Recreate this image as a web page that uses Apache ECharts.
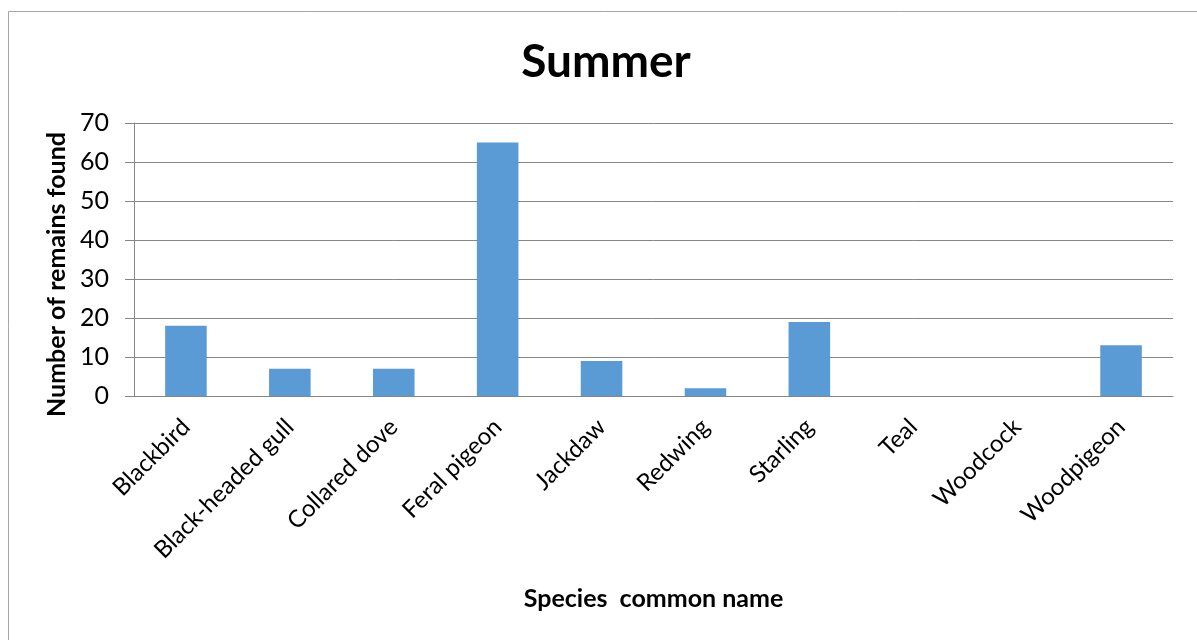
<!DOCTYPE html>
<html>
<head>
<meta charset="utf-8">
<script src="https://cdn.jsdelivr.net/npm/echarts@6/dist/echarts.min.js"></script>
<style>
  html, body { margin: 0; padding: 0; background: #fff; }
  #chart { width: 1197px; height: 640px; }
</style>
</head>
<body>
<div id="chart"></div>
<script>
// Bird remains found per species in summer
const species = ['Blackbird', 'Black-headed gull', 'Collared dove', 'Feral pigeon', 'Jackdaw',
                 'Redwing', 'Starling', 'Teal', 'Woodcock', 'Woodpigeon'];
const remains = [18, 7, 7, 65, 9, 2, 19, 0, 0, 13];
const yTicks = [0, 10, 20, 30, 40, 50, 60, 70];

const FONT = 'Lato, "Open Sans", sans-serif';
const chart = echarts.init(document.getElementById('chart'), null, { renderer: 'canvas' });

chart.setOption({
  backgroundColor: '#fff',
  animation: false,
  graphic: [{
    type: 'rect',
    shape: { x: 8.5, y: 11.5, width: 1220, height: 660 },
    style: { fill: 'none', stroke: '#a6a6a6', lineWidth: 1 },
    silent: true
  }],
  title: {
    text: 'Summer',
    left: 601,
    top: 34,
    textAlign: 'center',
    textStyle: { fontFamily: FONT, fontSize: 46, fontWeight: 'bold', color: '#000' }
  },
  grid: { left: 134, top: 123, right: 24, bottom: 244, containLabel: false },
  xAxis: {
    type: 'category',
    data: species,
    name: 'Species  common name',
    nameLocation: 'middle',
    nameGap: 190,
    nameTextStyle: { fontFamily: FONT, fontSize: 25, fontWeight: 'bold', color: '#000' },
    axisLine: { lineStyle: { color: '#868686', width: 1 } },
    axisTick: { show: false },
    axisLabel: {
      rotate: 45,
      interval: 0,
      margin: 27,
      fontFamily: FONT,
      fontSize: 24,
      color: '#000'
    }
  },
  yAxis: {
    type: 'value',
    min: yTicks[0],
    max: yTicks[yTicks.length - 1],
    interval: 10,
    name: 'Number of remains found',
    nameLocation: 'middle',
    nameGap: 62,
    nameTextStyle: { fontFamily: FONT, fontSize: 25, fontWeight: 'bold', color: '#000', padding: [0, 30, 0, 0] },
    axisLine: { show: true, lineStyle: { color: '#868686', width: 1 } },
    axisTick: { show: true, length: 9, lineStyle: { color: '#868686' } },
    splitLine: { show: true, lineStyle: { color: '#868686', width: 1 } },
    axisLabel: { margin: 25, fontFamily: FONT, fontSize: 25, color: '#000' }
  },
  series: [{
    type: 'bar',
    data: remains,
    barWidth: '40%',
    itemStyle: { color: '#5b9bd5' }
  }]
});
</script>
</body>
</html>
